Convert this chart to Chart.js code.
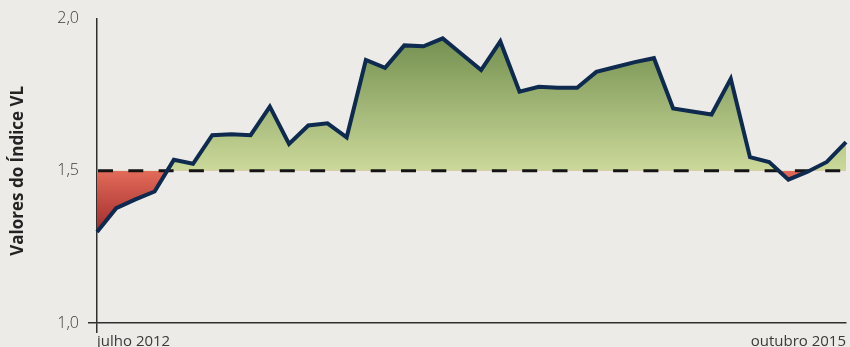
<!DOCTYPE html>
<html>
<head>
<meta charset="utf-8">
<script src="https://cdn.jsdelivr.net/npm/chart.js@4.4.1/dist/chart.umd.min.js"></script>
<style>
    html, body { margin: 0; padding: 0; background: #ecebe7; }
    #wrap { width: 850px; height: 347px; }
</style>
</head>
<body>
<div id="wrap"><canvas id="vlChart"></canvas></div>
<script>
// Monthly VL index, July 2012 to October 2015
const X_LABELS = [
    'jul 2012', 'ago 2012', 'set 2012', 'out 2012', 'nov 2012', 'dez 2012',
    'jan 2013', 'fev 2013', 'mar 2013', 'abr 2013', 'mai 2013', 'jun 2013',
    'jul 2013', 'ago 2013', 'set 2013', 'out 2013', 'nov 2013', 'dez 2013',
    'jan 2014', 'fev 2014', 'mar 2014', 'abr 2014', 'mai 2014', 'jun 2014',
    'jul 2014', 'ago 2014', 'set 2014', 'out 2014', 'nov 2014', 'dez 2014',
    'jan 2015', 'fev 2015', 'mar 2015', 'abr 2015', 'mai 2015', 'jun 2015',
    'jul 2015', 'ago 2015', 'set 2015', 'out 2015'
];
const VL_VALUES = [
    1.299, 1.377, 1.406, 1.432, 1.536, 1.523, 1.617, 1.620, 1.617, 1.711,
    1.588, 1.649, 1.656, 1.610, 1.864, 1.838, 1.912, 1.909, 1.935, 1.883,
    1.831, 1.925, 1.760, 1.776, 1.773, 1.773, 1.825, 1.841, 1.857, 1.870,
    1.705, 1.695, 1.685, 1.802, 1.545, 1.529, 1.471, 1.497, 1.529, 1.594
];
const X_TICK_LABELS = ['julho 2012', 'outubro 2015'];
const Y_TICKS = [1.0, 1.5, 2.0];
const THRESHOLD = 1.5;

const FONT = "'Open Sans', sans-serif";
const AXIS_COLOR = '#2f2f2f';
const LINE_NAVY = '#0f2a4f';

let gradCache = null;
function fillColors(chart) {
    const area = chart.chartArea;
    const y = chart.scales.y;
    const key = area.top + ':' + area.bottom;
    if (gradCache && gradCache.key === key) return gradCache;
    const ctx = chart.ctx;
    const mid = y.getPixelForValue(THRESHOLD);
    const green = ctx.createLinearGradient(0, y.getPixelForValue(1.95), 0, mid);
    green.addColorStop(0, '#718e4e');
    green.addColorStop(1, '#cbd99a');
    const red = ctx.createLinearGradient(0, mid, 0, y.getPixelForValue(1.29));
    red.addColorStop(0, '#e26b59');
    red.addColorStop(1, '#9e282a');
    gradCache = { key, above: green, below: red };
    return gradCache;
}

// dashed reference line, drawn over the fill but under the index line
const thresholdLine = {
    id: 'thresholdLine',
    beforeDatasetsDraw(chart) {
        const { ctx, chartArea: a, scales: { y } } = chart;
        const py = y.getPixelForValue(THRESHOLD);
        ctx.save();
        ctx.strokeStyle = '#141414';
        ctx.lineWidth = 3;
        ctx.setLineDash([15, 15.3]);
        ctx.beginPath();
        ctx.moveTo(a.left + 1, py);
        ctx.lineTo(a.right, py);
        ctx.stroke();
        ctx.restore();
    }
};

new Chart(document.getElementById('vlChart'), {
    type: 'line',
    data: {
        labels: X_LABELS,
        datasets: [{
            label: 'Índice VL',
            data: VL_VALUES,
            borderColor: LINE_NAVY,
            borderWidth: 4,
            borderJoinStyle: 'miter',
            pointRadius: 0,
            tension: 0,
            fill: (c) => {
                const chart = c.chart;
                if (!chart.chartArea) return { target: { value: THRESHOLD } };
                const g = fillColors(chart);
                return { target: { value: THRESHOLD }, above: g.above, below: g.below };
            }
        }]
    },
    options: {
        responsive: true,
        maintainAspectRatio: false,
        animation: false,
        layout: { padding: { top: 15, right: 4, left: 0, bottom: 0 } },
        plugins: {
            legend: { display: false },
            tooltip: { enabled: false },
            filler: { drawTime: 'beforeDatasetsDraw' }
        },
        scales: {
            x: {
                offset: false,
                border: { display: true, color: AXIS_COLOR, width: 1.5 },
                grid: {
                    drawOnChartArea: false,
                    tickLength: 10,
                    lineWidth: 1.5,
                    color: (c) => c.index === 0 ? AXIS_COLOR : 'rgba(0,0,0,0)'
                },
                ticks: {
                    autoSkip: false,
                    maxRotation: 0,
                    align: 'inner',
                    padding: 0,
                    color: '#3a3a3a',
                    font: { family: FONT, size: 15 },
                    callback: (v, i) => i === 0 ? X_TICK_LABELS[0] : (i === X_LABELS.length - 1 ? X_TICK_LABELS[1] : '')
                },
                afterFit: (scale) => { scale.height = 24; }
            },
            y: {
                min: 1.0,
                max: 2.0,
                border: { display: true, color: AXIS_COLOR, width: 1.5 },
                grid: {
                    drawOnChartArea: false,
                    tickLength: 9,
                    lineWidth: 1.5,
                    color: (c) => c.tick && c.tick.value === 1 ? AXIS_COLOR : 'rgba(0,0,0,0)'
                },
                afterBuildTicks: (scale) => { scale.ticks = Y_TICKS.map(v => ({ value: v })); },
                ticks: {
                    padding: 9,
                    color: '#3a3a3a',
                    font: { family: FONT, size: 16, weight: 300 },
                    callback: (v) => v.toFixed(1).replace('.', ',')
                },
                title: {
                    display: true,
                    text: 'Valores do Índice VL',
                    color: '#232323',
                    font: { family: FONT, size: 17, weight: 'bold' },
                    padding: { top: 8, bottom: 0 }
                },
                afterFit: (scale) => { scale.width = 97; }
            }
        }
    },
    plugins: [thresholdLine]
});
</script>
</body>
</html>
